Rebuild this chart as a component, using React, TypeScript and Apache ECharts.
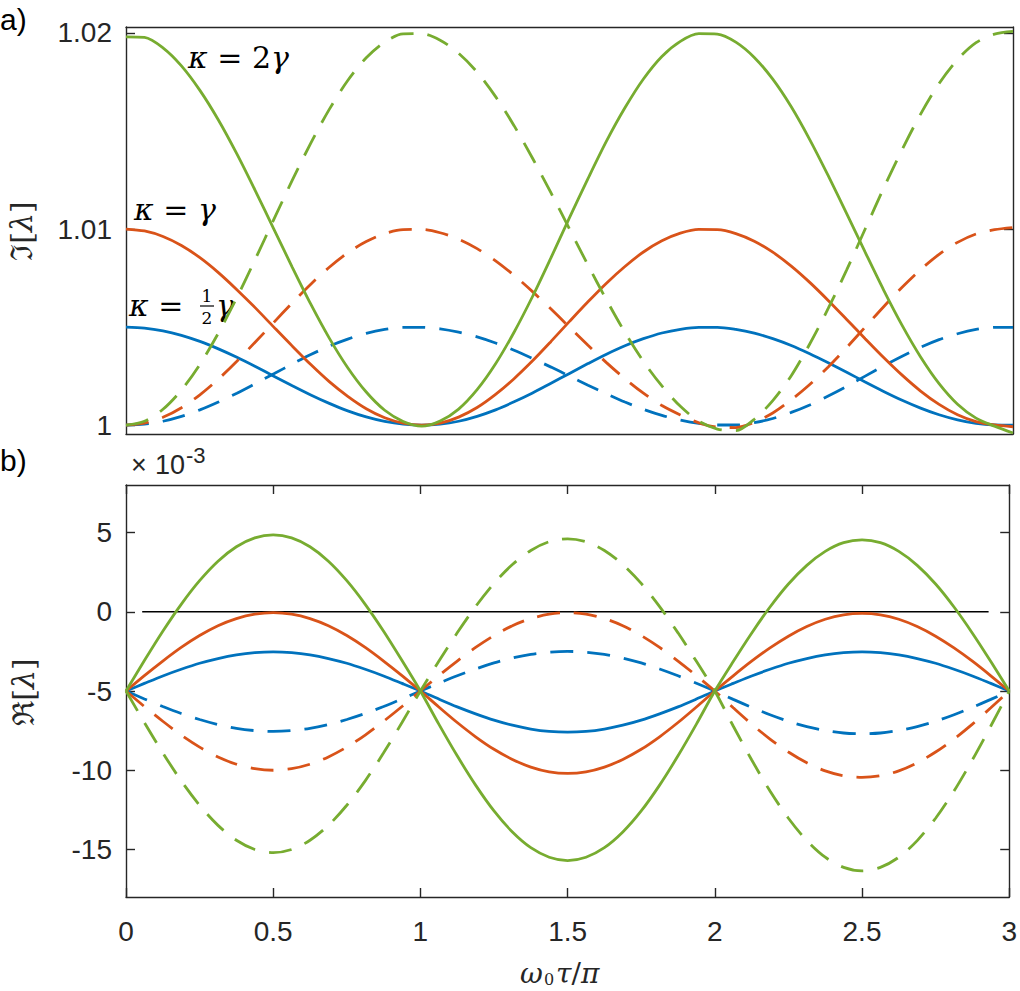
import React, { useEffect, useRef } from 'react';
import * as echarts from 'echarts';

// omega_0 tau / pi sample points
const xs = [
  0, 0.0625, 0.125, 0.1875, 0.25, 0.3125, 0.375, 0.4375, 0.5, 0.5625, 0.625, 0.6875, 0.75, 0.8125, 0.875, 0.9375,
  1, 1.0625, 1.125, 1.1875, 1.25, 1.3125, 1.375, 1.4375, 1.5, 1.5625, 1.625, 1.6875, 1.75, 1.8125, 1.875, 1.9375,
  2, 2.0625, 2.125, 2.1875, 2.25, 2.3125, 2.375, 2.4375, 2.5, 2.5625, 2.625, 2.6875, 2.75, 2.8125, 2.875, 2.9375,
  3,
];

// panel a) Im[lambda]
const imBlueSolid = [
  1.005, 1.00495, 1.00481, 1.00458, 1.00427, 1.00389, 1.00346, 1.00299, 1.0025, 1.00201, 1.00154, 1.00111, 1.00073, 1.00042, 1.00019, 1.00005,
  1.0, 1.00005, 1.0002, 1.00045, 1.00078, 1.00119, 1.00164, 1.00214, 1.00264, 1.00314, 1.00362, 1.00405, 1.00441, 1.0047, 1.00489, 1.00499,
  1.00499, 1.00488, 1.00469, 1.00441, 1.00406, 1.00364, 1.00318, 1.0027, 1.0022, 1.00172, 1.00127, 1.00087, 1.00053, 1.00027, 1.00009, 1.00001, 1.0,
];
const imBlueDashed = [
  1.0, 1.00005, 1.0002, 1.00045, 1.00078, 1.00118, 1.00163, 1.00212, 1.00262, 1.00312, 1.0036, 1.00403, 1.00439, 1.00468, 1.00488, 1.00499,
  1.00499, 1.00491, 1.00474, 1.0045, 1.00419, 1.00382, 1.0034, 1.00296, 1.0025, 1.00204, 1.0016, 1.00118, 1.00081, 1.0005, 1.00026, 1.00009,
  1.00001, 1.00001, 1.00013, 1.00034, 1.00065, 1.00103, 1.00149, 1.00198, 1.0025, 1.00302, 1.00351, 1.00397, 1.00436, 1.00466, 1.00488, 1.00499, 1.00499,
];
const imOrangeSolid = [
  1.01, 1.0099, 1.00962, 1.00916, 1.00854, 1.00778, 1.00691, 1.00598, 1.005, 1.00403, 1.00309, 1.00222, 1.00147, 1.00084, 1.00038, 1.0001,
  1.0, 1.0001, 1.00041, 1.0009, 1.00157, 1.00237, 1.00328, 1.00427, 1.00529, 1.00629, 1.00724, 1.00809, 1.00883, 1.0094, 1.00979, 1.00998,
  1.00997, 1.00977, 1.00938, 1.00882, 1.00811, 1.00728, 1.00636, 1.00539, 1.00441, 1.00345, 1.00255, 1.00174, 1.00106, 1.00053, 1.00018, 1.00001, 0.99992,
];
const imOrangeDashed = [
  1.0, 1.0001, 1.0004, 1.00089, 1.00155, 1.00235, 1.00326, 1.00424, 1.00524, 1.00624, 1.00719, 1.00805, 1.00879, 1.00936, 1.00977, 1.00997,
  1.00998, 1.00981, 1.00948, 1.009, 1.00838, 1.00764, 1.00681, 1.00592, 1.005, 1.00408, 1.00319, 1.00237, 1.00163, 1.001, 1.00052, 1.00012,
  0.9999, 0.99988, 1.00015, 1.00062, 1.00129, 1.00207, 1.00297, 1.00396, 1.005, 1.00604, 1.00703, 1.00793, 1.00871, 1.00932, 1.00975, 1.00997, 1.01008,
];
const imGreenSolid = [
  1.0198, 1.01977, 1.01924, 1.01832, 1.01707, 1.01556, 1.01383, 1.01195, 1.01, 1.00805, 1.00617, 1.00444, 1.00293, 1.00169, 1.00076, 1.00019,
  0.99995, 1.00021, 1.00082, 1.00181, 1.00313, 1.00474, 1.00656, 1.00854, 1.01058, 1.01257, 1.01448, 1.01618, 1.01765, 1.0188, 1.01957, 1.01996,
  1.01994, 1.01953, 1.01875, 1.01764, 1.01623, 1.01456, 1.01272, 1.01079, 1.00882, 1.00689, 1.00509, 1.00348, 1.00212, 1.00107, 1.00036, 0.99995, 0.9996,
];
const imGreenDashed = [
  1.0, 1.0002, 1.00081, 1.00179, 1.0031, 1.0047, 1.00651, 1.00847, 1.01049, 1.01249, 1.01438, 1.0161, 1.01757, 1.01873, 1.01953, 1.01995,
  1.01996, 1.01963, 1.01896, 1.018, 1.01675, 1.01527, 1.01361, 1.01184, 1.01, 1.00816, 1.00639, 1.00473, 1.00325, 1.002, 1.00096, 1.0002,
  0.9998, 0.99972, 1.0003, 1.00125, 1.00252, 1.00414, 1.00595, 1.00792, 1.01, 1.01208, 1.01405, 1.01586, 1.01742, 1.01864, 1.0195, 1.01994, 1.02008,
];

// panel b) Re[lambda] (x 10^-3)
const reBlueSolid = [
  -5, -4.52, -4.05, -3.63, -3.25, -2.95, -2.72, -2.58, -2.53, -2.58, -2.72, -2.95, -3.25, -3.63, -4.05, -4.52,
  -5, -5.51, -6.0, -6.44, -6.84, -7.16, -7.4, -7.55, -7.6, -7.55, -7.4, -7.16, -6.84, -6.44, -6.0, -5.51,
  -5, -4.52, -4.05, -3.63, -3.25, -2.95, -2.72, -2.58, -2.53, -2.58, -2.72, -2.95, -3.25, -3.63, -4.05, -4.52, -5,
];
const reBlueDashed = [
  -5, -5.5, -5.98, -6.42, -6.8, -7.12, -7.36, -7.5, -7.55, -7.5, -7.36, -7.12, -6.8, -6.42, -5.98, -5.5,
  -5, -4.51, -4.04, -3.61, -3.23, -2.92, -2.69, -2.55, -2.5, -2.55, -2.69, -2.92, -3.23, -3.61, -4.04, -4.51,
  -5, -5.53, -6.03, -6.5, -6.91, -7.25, -7.49, -7.65, -7.7, -7.65, -7.49, -7.25, -6.91, -6.5, -6.03, -5.53, -5,
];
const reOrangeSolid = [
  -5, -4.03, -3.11, -2.25, -1.5, -0.88, -0.43, -0.15, -0.05, -0.15, -0.43, -0.88, -1.5, -2.25, -3.11, -4.03,
  -5, -6.01, -6.99, -7.89, -8.68, -9.32, -9.8, -10.1, -10.2, -10.1, -9.8, -9.32, -8.68, -7.89, -6.99, -6.01,
  -5, -4.04, -3.12, -2.28, -1.54, -0.93, -0.47, -0.19, -0.1, -0.19, -0.47, -0.93, -1.54, -2.28, -3.12, -4.04, -5,
];
const reOrangeDashed = [
  -5, -5.98, -6.91, -7.78, -8.54, -9.16, -9.62, -9.9, -10.0, -9.9, -9.62, -9.16, -8.54, -7.78, -6.91, -5.98,
  -5, -4.03, -3.11, -2.25, -1.5, -0.88, -0.43, -0.15, -0.05, -0.15, -0.43, -0.88, -1.5, -2.25, -3.11, -4.03,
  -5, -6.06, -7.09, -8.03, -8.85, -9.53, -10.04, -10.35, -10.45, -10.35, -10.04, -9.53, -8.85, -8.03, -7.09, -6.06, -5,
];
const reGreenSolid = [
  -5, -3.08, -1.23, 0.47, 1.96, 3.19, 4.1, 4.66, 4.85, 4.66, 4.1, 3.19, 1.96, 0.47, -1.23, -3.08,
  -5, -7.09, -9.09, -10.94, -12.57, -13.9, -14.89, -15.49, -15.7, -15.49, -14.89, -13.9, -12.57, -10.94, -9.09, -7.09,
  -5, -3.14, -1.35, 0.3, 1.75, 2.93, 3.81, 4.36, 4.54, 4.36, 3.81, 2.93, 1.75, 0.3, -1.35, -3.14, -5,
];
const reGreenDashed = [
  -5, -6.99, -8.9, -10.67, -12.21, -13.48, -14.42, -15.0, -15.2, -15.0, -14.42, -13.48, -12.21, -10.67, -8.9, -6.99,
  -5, -3.13, -1.33, 0.33, 1.79, 2.98, 3.87, 4.42, 4.6, 4.42, 3.87, 2.98, 1.79, 0.33, -1.33, -3.13,
  -5, -7.21, -9.34, -11.31, -13.03, -14.44, -15.49, -16.13, -16.35, -16.13, -15.49, -14.44, -13.03, -11.31, -9.34, -7.21, -5,
];
const zeroLineX = [0.055, 2.93];
const zeroLineY = [0, 0];

const imTicks = [1, 1.01, 1.02];
const imTickLabels = ['1', '1.01', '1.02'];
const reTicks = [-15, -10, -5, 0, 5];

const BLUE = '#0072BD';
const ORANGE = '#D95319';
const GREEN = '#77AC30';
const AXIS = '#262626';
const SANS = '"Liberation Sans", Arial, sans-serif';
const SERIF = '"DejaVu Serif", "Liberation Serif", serif';

const pairs = (ys: number[]) => xs.map((x, i) => [x, ys[i]]);

export default function App() {
  const chartRef = useRef<HTMLDivElement>(null);

  useEffect(() => {
    if (!chartRef.current) return;
    const chart = echarts.init(chartRef.current, null, { renderer: 'svg' });

    const line = { show: true, onZero: false, lineStyle: { color: AXIS, width: 1.4 } };
    const tick = { show: true, inside: true, length: 9, lineStyle: { color: AXIS, width: 1.4 } };
    const noTick = { show: false };
    const labelStyle = { color: AXIS, fontSize: 28, fontFamily: SANS };
    const italic = { i: { fontStyle: 'italic', fontSize: 30, fontFamily: SERIF } };

    const curve = (
      name: string,
      ys: number[],
      color: string,
      dashed: boolean,
      axis: number,
    ) => ({
      name,
      type: 'line',
      xAxisIndex: axis,
      yAxisIndex: axis,
      data: pairs(ys),
      smooth: 0.3,
      showSymbol: false,
      symbol: 'none',
      lineStyle: { color, width: 2.8, type: dashed ? [23, 14] : 'solid' },
      z: 3,
    });

    const option: any = {
      animation: false,
      backgroundColor: '#fff',
      grid: [
        { left: 126, right: 7, top: 27, height: 407 },
        { left: 126, right: 7, top: 485, height: 412 },
      ],
      xAxis: [
        { gridIndex: 0, type: 'value', min: 0, max: 3, position: 'bottom', axisLine: line, axisTick: noTick, axisLabel: { show: false }, splitLine: { show: false } },
        { gridIndex: 0, type: 'value', min: 0, max: 3, position: 'top', axisLine: line, axisTick: noTick, axisLabel: { show: false }, splitLine: { show: false } },
        {
          gridIndex: 1, type: 'value', min: 0, max: 3, interval: 0.5, position: 'bottom',
          axisLine: line, axisTick: tick, splitLine: { show: false },
          axisLabel: { ...labelStyle, margin: 20 },
        },
        { gridIndex: 1, type: 'value', min: 0, max: 3, interval: 0.5, position: 'top', axisLine: line, axisTick: tick, axisLabel: { show: false }, splitLine: { show: false } },
      ],
      yAxis: [
        {
          gridIndex: 0, type: 'value', min: 0.99955, max: 1.0203, position: 'left',
          axisLine: line, axisTick: { ...tick, customValues: imTicks }, splitLine: { show: false },
          axisLabel: {
            ...labelStyle, margin: 14, customValues: imTicks,
            formatter: (v: number) => imTickLabels[imTicks.findIndex((t) => Math.abs(t - v) < 1e-6)] ?? '',
          },
        },
        {
          gridIndex: 0, type: 'value', min: 0.99955, max: 1.0203, position: 'right',
          axisLine: line, axisTick: { ...tick, customValues: imTicks }, axisLabel: { show: false }, splitLine: { show: false },
        },
        {
          gridIndex: 1, type: 'value', min: -18, max: 8, position: 'left',
          axisLine: line, axisTick: { ...tick, customValues: reTicks }, splitLine: { show: false },
          axisLabel: { ...labelStyle, margin: 14, customValues: reTicks },
        },
        {
          gridIndex: 1, type: 'value', min: -18, max: 8, position: 'right',
          axisLine: line, axisTick: { ...tick, customValues: reTicks }, axisLabel: { show: false }, splitLine: { show: false },
        },
      ],
      series: [
        curve('blue solid a', imBlueSolid, BLUE, false, 0),
        curve('blue dashed a', imBlueDashed, BLUE, true, 0),
        curve('orange solid a', imOrangeSolid, ORANGE, false, 0),
        curve('orange dashed a', imOrangeDashed, ORANGE, true, 0),
        curve('green solid a', imGreenSolid, GREEN, false, 0),
        curve('green dashed a', imGreenDashed, GREEN, true, 0),
        {
          name: 'zero',
          type: 'line',
          xAxisIndex: 2,
          yAxisIndex: 2,
          data: zeroLineX.map((x, i) => [x, zeroLineY[i]]),
          showSymbol: false,
          symbol: 'none',
          lineStyle: { color: '#000', width: 1.5 },
          z: 2,
        },
        curve('blue solid b', reBlueSolid, BLUE, false, 2),
        curve('blue dashed b', reBlueDashed, BLUE, true, 2),
        curve('orange solid b', reOrangeSolid, ORANGE, false, 2),
        curve('orange dashed b', reOrangeDashed, ORANGE, true, 2),
        curve('green solid b', reGreenSolid, GREEN, false, 2),
        curve('green dashed b', reGreenDashed, GREEN, true, 2),
      ],
      graphic: [
        { type: 'text', x: 0, y: 19, style: { text: 'a)', font: `30px ${SANS}`, fill: '#000', verticalAlign: 'middle' } },
        { type: 'text', x: 0, y: 460, style: { text: 'b)', font: `30px ${SANS}`, fill: '#000', verticalAlign: 'middle' } },
        // x 10^-3
        { type: 'text', x: 131, y: 465, style: { text: '×', font: `27px ${SANS}`, fill: AXIS, verticalAlign: 'middle' } },
        { type: 'text', x: 155, y: 465, style: { text: '10', font: `27px ${SANS}`, fill: AXIS, verticalAlign: 'middle' } },
        { type: 'text', x: 186, y: 455, style: { text: '-3', font: `22px ${SANS}`, fill: AXIS, verticalAlign: 'middle' } },
        // y axis names
        {
          type: 'text', x: 21, y: 231, rotation: Math.PI / 2,
          style: { text: 'ℑ[{i|λ}]', font: `30px ${SERIF}`, fill: AXIS, align: 'center', verticalAlign: 'middle', rich: italic },
        },
        {
          type: 'text', x: 23, y: 692, rotation: Math.PI / 2,
          style: { text: 'ℜ[{i|λ}]', font: `30px ${SERIF}`, fill: AXIS, align: 'center', verticalAlign: 'middle', rich: italic },
        },
        // x axis name omega_0 tau / pi
        { type: 'text', x: 520, y: 973, style: { text: 'ω', font: `italic 28px ${SERIF}`, fill: AXIS, verticalAlign: 'middle' } },
        { type: 'text', x: 544, y: 979, style: { text: '0', font: `16px ${SERIF}`, fill: AXIS, verticalAlign: 'middle' } },
        {
          type: 'text', x: 556, y: 973,
          style: { text: '{t|τ}/{t|π}', font: `28px ${SERIF}`, fill: AXIS, verticalAlign: 'middle', rich: { t: { fontStyle: 'italic', fontSize: 28, fontFamily: SERIF } } },
        },
        // kappa labels
        {
          type: 'text', x: 188, y: 57,
          style: { text: '{i|κ} = 2{i|γ}', font: `30px ${SERIF}`, fill: '#000', verticalAlign: 'middle', rich: italic },
        },
        {
          type: 'text', x: 134, y: 209,
          style: { text: '{i|κ} = {i|γ}', font: `30px ${SERIF}`, fill: '#000', verticalAlign: 'middle', rich: italic },
        },
        {
          type: 'text', x: 129, y: 305,
          style: { text: '{i|κ} =', font: `30px ${SERIF}`, fill: '#000', verticalAlign: 'middle', rich: italic },
        },
        { type: 'text', x: 207, y: 296, style: { text: '1', font: `17px ${SERIF}`, fill: '#000', align: 'center', verticalAlign: 'middle' } },
        { type: 'line', shape: { x1: 200, y1: 306, x2: 214, y2: 306 }, style: { stroke: '#000', lineWidth: 1.2 } },
        { type: 'text', x: 207, y: 318, style: { text: '2', font: `17px ${SERIF}`, fill: '#000', align: 'center', verticalAlign: 'middle' } },
        { type: 'text', x: 216, y: 305, style: { text: 'γ', font: `italic 30px ${SERIF}`, fill: '#000', verticalAlign: 'middle' } },
      ],
    };

    chart.setOption(option);
    return () => chart.dispose();
  }, []);

  return (
    <div
      ref={chartRef}
      style={{ position: 'absolute', left: 0, top: 0, width: 1020, height: 991 }}
    />
  );
}
